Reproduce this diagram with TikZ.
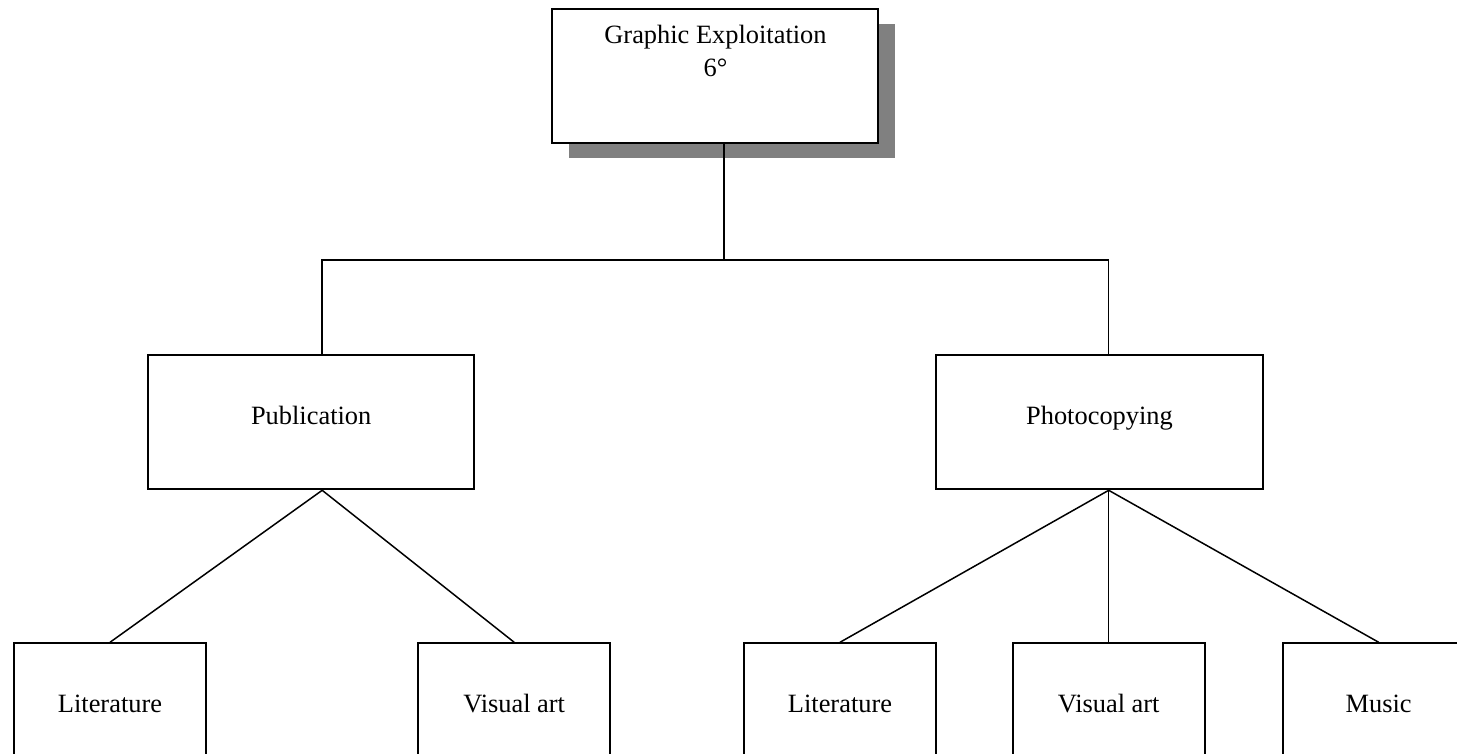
\documentclass[tikz,border=0pt]{standalone}
\usepackage{fontspec}
\setmainfont{Liberation Serif}
\usetikzlibrary{shadows}
\tikzset{
  block/.style    = {draw, line width=1pt, rectangle, fill=white, minimum width=163pt, minimum height=67pt, font=\fontsize{13.2}{16.5}\selectfont},
  branch/.style   = {block, text height=9pt, text depth=7pt},
  leaf/.style     = {branch, minimum width=96pt},
  root/.style     = {block, align=center, text depth=25.5pt, drop shadow={shadow xshift=8.5pt, shadow yshift=-7.5pt, fill=black!50, opacity=1}},
  wire/.style     = {line width=0.75pt}
}
\begin{document}
\begin{tikzpicture}[auto, node distance=144pt]

\useasboundingbox (-357.75pt,38pt) rectangle (370.75pt,-339pt);
\clip (-357.75pt,38pt) rectangle (370.75pt,-339pt);

% Top
\draw node [root, name=top] {Graphic Exploitation\\6°};

% Second level
\draw node [branch, below of=top, xshift=-202.15pt, node distance=173.15pt] (pub) {Publication};
\draw node [branch, below of=top, xshift=192pt, node distance=173.15pt] (photo) {Photocopying};

% Third level
\draw node [leaf, below of=pub, xshift=-100.6pt] (lit1) {Literature};
\draw node [leaf, below of=pub, xshift=101.5pt] (vis1) {Visual art};
\draw node [leaf, below of=photo, xshift=-129.75pt] (lit2) {Literature};
\draw node [leaf, below of=photo, xshift=4.6pt] (vis2) {Visual art};
\draw node [leaf, below of=photo, xshift=139.6pt] (mus) {Music};

% Connections
\draw[-, wire]([xshift=4.25pt]top.south) -- ++(0,-58pt) coordinate (fork);
\draw[-, wire]([xshift=5.5pt]pub.north) |- (fork) -| ([xshift=4.6pt]photo.north);

\draw[-, wire]([xshift=5.5pt]pub.south) -- (lit1.north);
\draw[-, wire]([xshift=5.5pt]pub.south) -- (vis1.north);

\draw[-, wire]([xshift=4.6pt]photo.south) -- (lit2.north);
\draw[-, wire]([xshift=4.6pt]photo.south) -- (vis2.north);
\draw[-, wire]([xshift=4.6pt]photo.south) -- (mus.north);

\end{tikzpicture}
\end{document}
